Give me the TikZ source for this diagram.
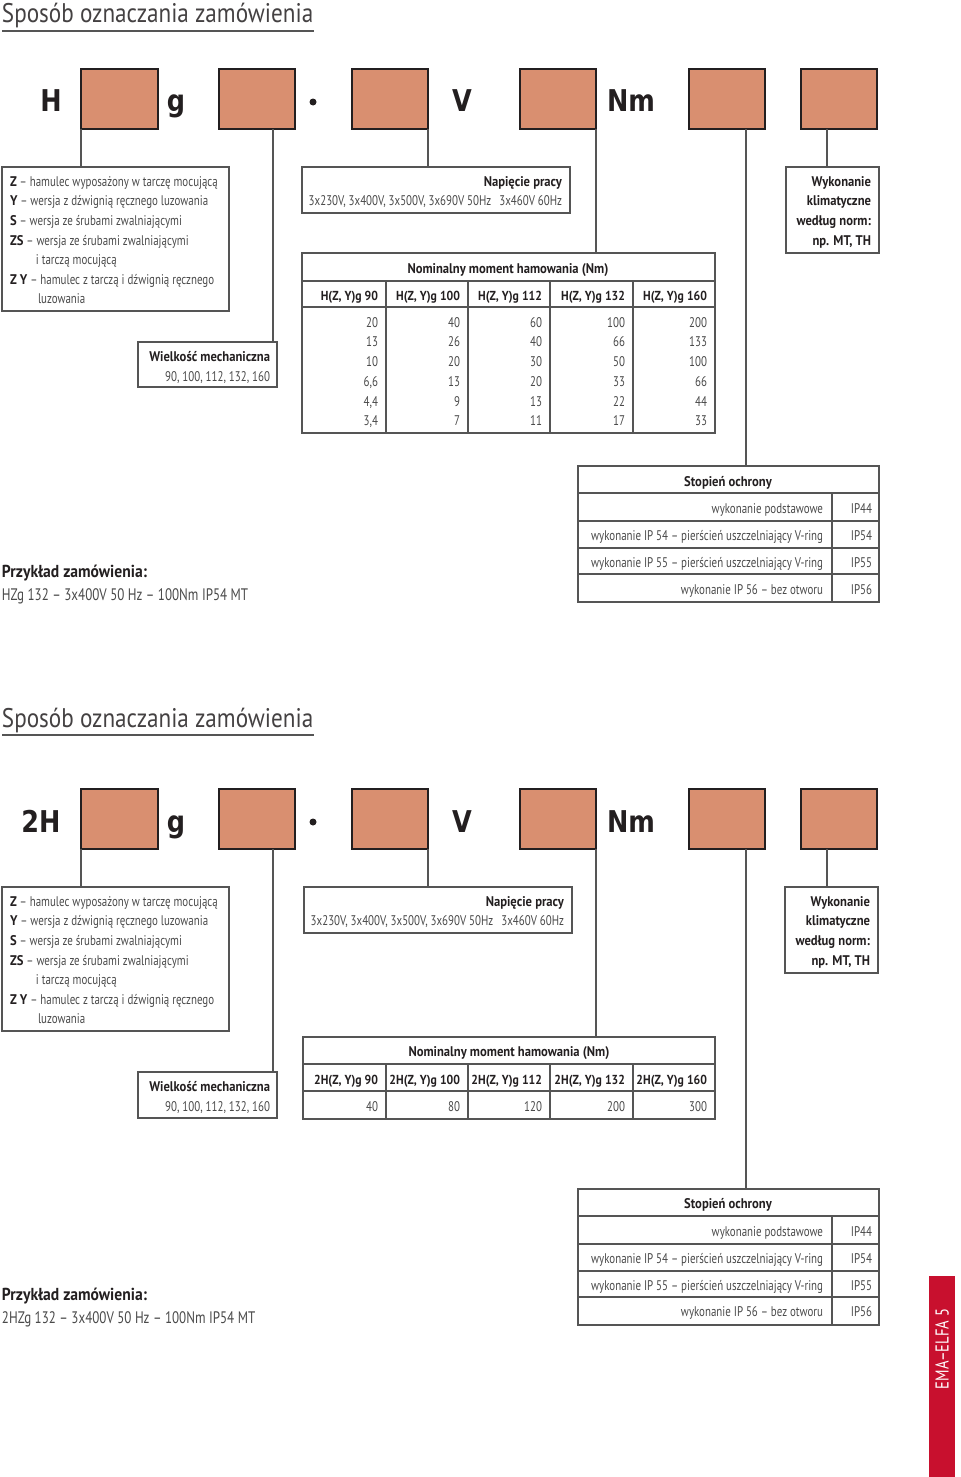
\documentclass[tikz,border=0pt]{standalone}
\usepackage{fontspec}
\setmainfont[FakeStretch=0.78, BoldFeatures={FakeStretch=0.9}]{PT Sans}
\newfontfamily\titlefont[FakeStretch=0.86]{PT Sans}
\newfontfamily\bigfont[FakeStretch=0.85]{DejaVu Sans}
\definecolor{salmon}{HTML}{D98F70}
\definecolor{edge}{HTML}{231F20}
\definecolor{linec}{HTML}{555555}
\definecolor{txt}{HTML}{4A4A4A}
\definecolor{dark}{HTML}{231F20}
\definecolor{tabred}{HTML}{C8102E}
\newcommand\rbox[6]{\node[#6, anchor=north west, minimum width={(#4-#2)*0.75pt}, minimum height={(#5-#3)*0.75pt}] (#1) at (#2,#3) {};}
\begin{document}
\begin{tikzpicture}[x=0.75pt,y=-0.75pt,
  every node/.style={inner sep=0pt, outer sep=0pt},
  ebox/.style={draw=edge, fill=salmon, line width=1.5pt},
  frame/.style={draw=linec, line width=1pt},
  conn/.style={draw=linec, line width=1pt},
  t/.style={font=\fontsize{10.5}{12}\selectfont, text=txt, yshift=-1.3pt},
  tb/.style={font=\fontsize{10.5}{12}\selectfont\bfseries, text=dark, yshift=-1.3pt},
  th/.style={font=\fontsize{9.8}{12}\selectfont\bfseries, text=dark, yshift=-1.3pt},
  big/.style={font=\bigfont\bfseries\fontsize{22.5}{24}\selectfont, text=dark, anchor=base},
  ttl/.style={font=\titlefont\fontsize{20.2}{22}\selectfont, text=dark!85},
  ex/.style={font=\fontsize{13}{14}\selectfont\bfseries, text=dark, yshift=-1.3pt},
  ext/.style={font=\fontsize{12.5}{14}\selectfont, text=txt, yshift=-1.3pt}]
\useasboundingbox (0,0) rectangle (960,1477);

% ================= SECTION 1 =================
\node[ttl, anchor=base west] (title1) at (2,23) {Sposób oznaczania zamówienia};
\draw[conn] (2,31) -- (314,31);

\node[big] (H1) at (51,112) {H};
\rbox{b1}{81}{69}{158}{129}{ebox}
\node[big] (g1) at (176,112) {g};
\rbox{b2}{219}{69}{295}{129}{ebox}
\fill[dark] (313,102) circle (3.5);
\node (dot1) at (313,102) {};
\rbox{b3}{352}{69}{428}{129}{ebox}
\node[big] (V1) at (462,112) {V};
\rbox{b4}{520}{69}{596}{129}{ebox}
\node[big] (Nm1) at (631,112) {Nm};
\rbox{b5}{689}{69}{765}{129}{ebox}
\rbox{b6}{801}{69}{877}{129}{ebox}

% boxes
\rbox{lb1}{2}{167}{229}{311}{frame}
\rbox{wm1}{138}{342}{277}{387}{frame}
\rbox{np1}{302}{167}{570}{213}{frame}
\rbox{wk1}{786}{167}{879}{253}{frame}
\rbox{tb1}{302}{253}{715}{433}{frame}
\rbox{st1}{578}{466}{879}{602}{frame}

% connectors
\coordinate (c2a) at (273,129);
\coordinate (c5a) at (746,129);
\coordinate (c6a) at (827,129);
\draw[conn] (b1.south west) -- (b1.south west |- lb1.north);
\draw[conn] (c2a) -- (c2a |- wm1.north);
\draw[conn] (b3.south east) -- (b3.south east |- np1.north);
\draw[conn] (b4.south east) -- (b4.south east |- tb1.north);
\draw[conn] (c5a) -- (c5a |- st1.north);
\draw[conn] (c6a) -- (c6a |- wk1.north);

% left box text
\node[t, anchor=mid west] (l1a) at (10,181) {\textbf{\color{dark}Z} – hamulec wyposażony w tarczę mocującą};
\node[t, anchor=mid west] (l1b) at (10,200) {\textbf{\color{dark}Y} – wersja z dźwignią ręcznego luzowania};
\node[t, anchor=mid west] (l1c) at (10,220) {\textbf{\color{dark}S} – wersja ze śrubami zwalniającymi};
\node[t, anchor=mid west] (l1d) at (10,240) {\textbf{\color{dark}ZS} – wersja ze śrubami zwalniającymi};
\node[t, anchor=mid west] (l1e) at (36,259) {i tarczą mocującą};
\node[t, anchor=mid west] (l1f) at (10,279) {\textbf{\color{dark}Z Y} – hamulec z tarczą i dźwignią ręcznego};
\node[t, anchor=mid west] (l1g) at (38,298) {luzowania};

\node[tb, anchor=mid east] (wm1a) at (270,356) {Wielkość mechaniczna};
\node[t, anchor=mid east] (wm1b) at (270,376) {90, 100, 112, 132, 160};

\node[tb, anchor=mid east] (np1a) at (562,181) {Napięcie pracy};
\node[t, anchor=mid east] (np1b) at (562,200) {3x230V, 3x400V, 3x500V, 3x690V 50Hz\hspace{6pt}3x460V 60Hz};

\node[tb, anchor=mid east] (wk1a) at (871,181) {Wykonanie};
\node[tb, anchor=mid east] (wk1b) at (871,200) {klimatyczne};
\node[tb, anchor=mid east] (wk1c) at (871,220) {według norm:};
\node[tb, anchor=mid east] (wk1d) at (871,240) {np. MT, TH};

% table 1
\draw[frame] (302,281) -- (715,281);
\draw[frame] (302,307) -- (715,307);
\foreach \x in {386,468,550,633} \draw[frame] (\x,281) -- (\x,433);
\node[tb] (tb1h) at (508,268) {Nominalny moment hamowania (Nm)};
\foreach \x/\h [count=\i] in {378/{H(Z, Y)g 90},460/{H(Z, Y)g 100},542/{H(Z, Y)g 112},625/{H(Z, Y)g 132},707/{H(Z, Y)g 160}}
  \node[th, anchor=mid east] (tb1c\i) at (\x,295) {\h};
\foreach \y/\a/\b/\c/\d/\e [count=\i] in {322/20/40/60/100/200, 341/13/26/40/66/133, 361/10/20/30/50/100, 381/{6,6}/13/20/33/66, 401/{4,4}/9/13/22/44, 420/{3,4}/7/11/17/33}{
  \node[t, anchor=mid east] (d1-\i-1) at (378,\y) {\a};
  \node[t, anchor=mid east] (d1-\i-2) at (460,\y) {\b};
  \node[t, anchor=mid east] (d1-\i-3) at (542,\y) {\c};
  \node[t, anchor=mid east] (d1-\i-4) at (625,\y) {\d};
  \node[t, anchor=mid east] (d1-\i-5) at (707,\y) {\e};
}

% Stopien 1
\foreach \y in {493,521,548,574} \draw[frame] (578,\y) -- (879,\y);
\draw[frame] (832,493) -- (832,602);
\node[tb] (st1h) at (728,481) {Stopień ochrony};
\foreach \y/\a/\b [count=\i] in {508/{wykonanie podstawowe}/IP44, 535/{wykonanie IP 54 – pierścień uszczelniający V-ring}/IP54, 562/{wykonanie IP 55 – pierścień uszczelniający V-ring}/IP55, 589/{wykonanie IP 56 – bez otworu}/IP56}{
  \node[t, anchor=mid east] (s1-\i a) at (823,\y) {\a};
  \node[t, anchor=mid east] (s1-\i b) at (872,\y) {\b};
}

\node[ex, anchor=mid west] (ex1a) at (2,572) {Przykład zamówienia:};
\node[ext, anchor=mid west] (ex1b) at (2,595) {HZg 132 – 3x400V 50 Hz – 100Nm IP54 MT};

% ================= SECTION 2 =================
\node[ttl, anchor=base west] (title2) at (2,727) {Sposób oznaczania zamówienia};
\draw[conn] (2,735) -- (314,735);

\node[big] (H2) at (41,832) {2H};
\rbox{bb1}{81}{789}{158}{849}{ebox}
\node[big] (g2) at (176,832) {g};
\rbox{bb2}{219}{789}{295}{849}{ebox}
\fill[dark] (313,822) circle (3.5);
\node (dot2) at (313,822) {};
\rbox{bb3}{352}{789}{428}{849}{ebox}
\node[big] (V2) at (462,832) {V};
\rbox{bb4}{520}{789}{596}{849}{ebox}
\node[big] (Nm2) at (631,832) {Nm};
\rbox{bb5}{689}{789}{765}{849}{ebox}
\rbox{bb6}{801}{789}{877}{849}{ebox}

\rbox{lb2}{2}{887}{229}{1031}{frame}
\rbox{wm2}{138}{1072}{277}{1118}{frame}
\rbox{np2}{304}{887}{572}{933}{frame}
\rbox{wk2}{785}{887}{878}{973}{frame}
\rbox{tb2}{303}{1037}{715}{1119}{frame}
\rbox{st2}{578}{1189}{879}{1325}{frame}

\coordinate (c2b) at (273,849);
\coordinate (c5b) at (746,849);
\coordinate (c6b) at (827,849);
\draw[conn] (bb1.south west) -- (bb1.south west |- lb2.north);
\draw[conn] (c2b) -- (c2b |- wm2.north);
\draw[conn] (bb3.south east) -- (bb3.south east |- np2.north);
\draw[conn] (bb4.south east) -- (bb4.south east |- tb2.north);
\draw[conn] (c5b) -- (c5b |- st2.north);
\draw[conn] (c6b) -- (c6b |- wk2.north);

\node[t, anchor=mid west] (l2a) at (10,901) {\textbf{\color{dark}Z} – hamulec wyposażony w tarczę mocującą};
\node[t, anchor=mid west] (l2b) at (10,920) {\textbf{\color{dark}Y} – wersja z dźwignią ręcznego luzowania};
\node[t, anchor=mid west] (l2c) at (10,940) {\textbf{\color{dark}S} – wersja ze śrubami zwalniającymi};
\node[t, anchor=mid west] (l2d) at (10,960) {\textbf{\color{dark}ZS} – wersja ze śrubami zwalniającymi};
\node[t, anchor=mid west] (l2e) at (36,979) {i tarczą mocującą};
\node[t, anchor=mid west] (l2f) at (10,999) {\textbf{\color{dark}Z Y} – hamulec z tarczą i dźwignią ręcznego};
\node[t, anchor=mid west] (l2g) at (38,1018) {luzowania};

\node[tb, anchor=mid east] (wm2a) at (270,1086) {Wielkość mechaniczna};
\node[t, anchor=mid east] (wm2b) at (270,1106) {90, 100, 112, 132, 160};

\node[tb, anchor=mid east] (np2a) at (564,901) {Napięcie pracy};
\node[t, anchor=mid east] (np2b) at (564,920) {3x230V, 3x400V, 3x500V, 3x690V 50Hz\hspace{6pt}3x460V 60Hz};

\node[tb, anchor=mid east] (wk2a) at (870,901) {Wykonanie};
\node[tb, anchor=mid east] (wk2b) at (870,920) {klimatyczne};
\node[tb, anchor=mid east] (wk2c) at (870,940) {według norm:};
\node[tb, anchor=mid east] (wk2d) at (870,960) {np. MT, TH};

\draw[frame] (303,1064) -- (715,1064);
\draw[frame] (303,1091) -- (715,1091);
\foreach \x in {386,468,550,633} \draw[frame] (\x,1064) -- (\x,1119);
\node[tb] (tb2h) at (509,1051) {Nominalny moment hamowania (Nm)};
\foreach \x/\h/\v [count=\i] in {378/{2H(Z, Y)g 90}/40,460/{2H(Z, Y)g 100}/80,542/{2H(Z, Y)g 112}/120,625/{2H(Z, Y)g 132}/200,707/{2H(Z, Y)g 160}/300}{
  \node[th, anchor=mid east] (tb2c\i) at (\x,1079) {\h};
  \node[t, anchor=mid east] (tb2v\i) at (\x,1106) {\v};
}

\foreach \y in {1216,1244,1271,1297} \draw[frame] (578,\y) -- (879,\y);
\draw[frame] (832,1216) -- (832,1325);
\node[tb] (st2h) at (728,1203) {Stopień ochrony};
\foreach \y/\a/\b [count=\i] in {1231/{wykonanie podstawowe}/IP44, 1258/{wykonanie IP 54 – pierścień uszczelniający V-ring}/IP54, 1285/{wykonanie IP 55 – pierścień uszczelniający V-ring}/IP55, 1311/{wykonanie IP 56 – bez otworu}/IP56}{
  \node[t, anchor=mid east] (s2-\i a) at (823,\y) {\a};
  \node[t, anchor=mid east] (s2-\i b) at (872,\y) {\b};
}

\node[ex, anchor=mid west] (ex2a) at (2,1295) {Przykład zamówienia:};
\node[ext, anchor=mid west] (ex2b) at (2,1318) {2HZg 132 – 3x400V 50 Hz – 100Nm IP54 MT};

% red tab
\rbox{redtab}{929}{1276}{955}{1477}{fill=tabred}
\node[rotate=90, text=white, font=\fontsize{14}{16}\selectfont] (tabtext) at (942,1349) {EMA–ELFA 5};
\end{tikzpicture}
\end{document}
